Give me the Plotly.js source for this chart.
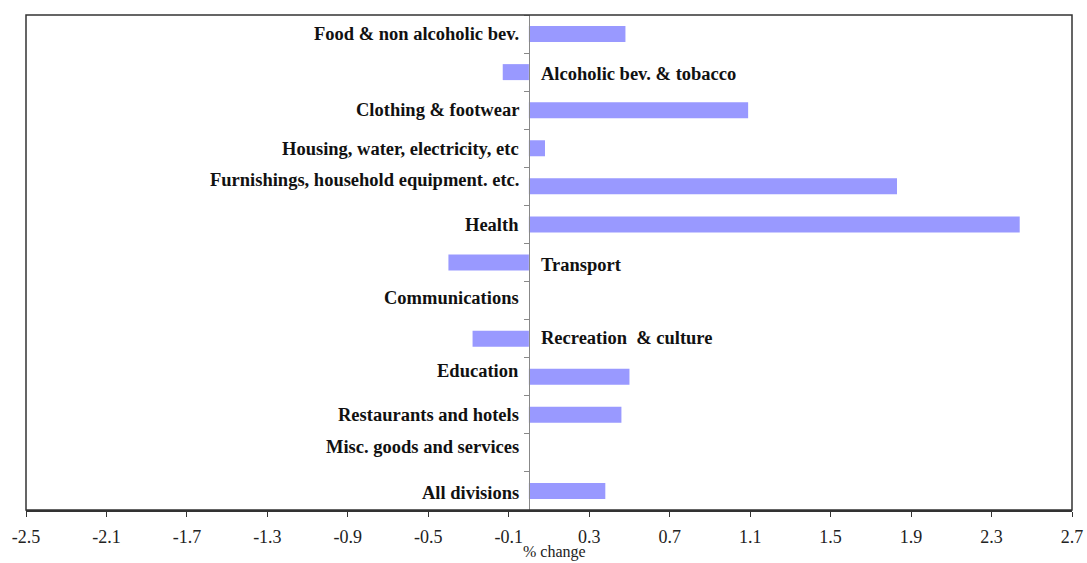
<!DOCTYPE html>
<html>
<head>
<meta charset="utf-8">
<script src="https://cdn.plot.ly/plotly-3.0.1.min.js"></script>
<style>html,body{margin:0;padding:0;background:#fff;}#chart{width:1087px;height:563px;}</style>
</head>
<body>
<div id="chart"></div>
<script>
// ---- data ----
const categories = [
  "Food & non alcoholic bev.",
  "Alcoholic bev. & tobacco",
  "Clothing & footwear",
  "Housing, water, electricity, etc",
  "Furnishings, household equipment. etc.",
  "Health",
  "Transport",
  "Communications",
  "Recreation  & culture",
  "Education",
  "Restaurants and hotels",
  "Misc. goods and services",
  "All divisions"
];
const values = [0.48, -0.13, 1.09, 0.08, 1.83, 2.44, -0.40, 0, -0.28, 0.50, 0.46, 0, 0.38];
const xTickVals = [-2.5, -2.1, -1.7, -1.3, -0.9, -0.5, -0.1, 0.3, 0.7, 1.1, 1.5, 1.9, 2.3, 2.7];
const xTitle = "% change";

// ---- styles (label vertical nudges in px) ----
const labelYShift = [0, -2, 0, -1, 6, -1, -2, 3, 1, 6, 0, 6, -2];
const serif = "Liberation Serif, Times New Roman, serif";

const xMin = -2.5, xMax = 2.7;
const zeroPos = (0 - xMin) / (xMax - xMin);

const trace = {
  type: "bar",
  orientation: "h",
  x: values,
  y: categories,
  marker: {color: "#9999FF", line: {width: 0}},
  width: 0.42,
  hoverinfo: "x+y"
};

const annotations = categories.map((c, i) => {
  const right = values[i] < 0;
  return {
    x: 0, y: c, xref: "x", yref: "y",
    text: "<b>" + c + "</b>",
    showarrow: false,
    xanchor: right ? "left" : "right",
    yanchor: "middle",
    xshift: right ? 10 : -8,
    yshift: labelYShift[i],
    font: {family: serif, size: 18.5, color: "#111"}
  };
});
annotations.push({
  x: 0.5, y: 0, xref: "paper", yref: "paper",
  text: xTitle, showarrow: false,
  xanchor: "center", yanchor: "bottom",
  xshift: 5, yshift: -52, borderpad: 0,
  font: {family: serif, size: 16, color: "#222"}
});

const layout = {
  width: 1087, height: 563,
  margin: {l: 26, r: 15, t: 15, b: 53},
  paper_bgcolor: "#fff", plot_bgcolor: "#fff",
  showlegend: false,
  xaxis: {
    range: [xMin, xMax],
    tickvals: xTickVals,
    ticktext: xTickVals.map(v => v.toFixed(1)),
    ticks: "outside", ticklen: 5, tickcolor: "#333", tickwidth: 1,
    ticklabelstandoff: 5,
    showline: true, linecolor: "#333", linewidth: 1.5,
    showgrid: false, zeroline: false,
    tickfont: {family: serif, size: 18, color: "#222"},
    automargin: false
  },
  yaxis: {
    type: "category",
    categoryarray: categories,
    range: [12.5, -0.5],
    anchor: "free", position: zeroPos,
    showline: true, linecolor: "#888", linewidth: 1,
    ticks: "outside", tickson: "boundaries", ticklen: 5, tickcolor: "#888",
    showticklabels: false, showgrid: false, zeroline: false,
    automargin: false
  },
  annotations: annotations,
  shapes: [{
    type: "rect", xref: "paper", yref: "paper", x0: 0, x1: 1, y0: 0, y1: 1,
    line: {color: "#333", width: 1.5}, fillcolor: "rgba(0,0,0,0)", layer: "above"
  }]
};

Plotly.newPlot("chart", [trace], layout, {displayModeBar: false, staticPlot: true});
</script>
</body>
</html>
